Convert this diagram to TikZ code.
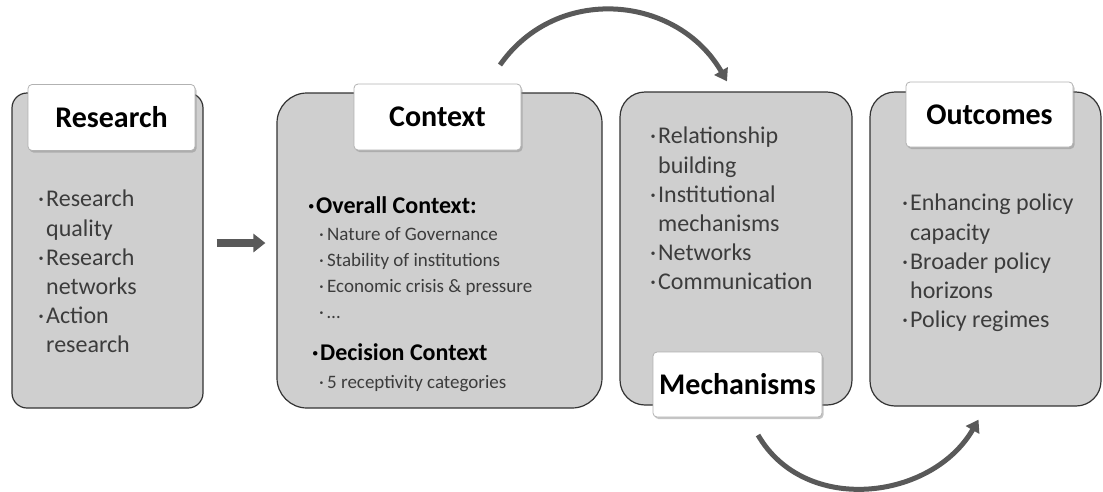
\documentclass[tikz,border=0pt]{standalone}
\usepackage{fontspec}
\setmainfont{Carlito}
\usepackage{tikz}
\usetikzlibrary{arrows.meta,shadows,positioning}

\definecolor{panelgrey}{RGB}{207,207,207}
\definecolor{arrowgrey}{RGB}{89,89,89}
\definecolor{textgrey}{RGB}{60,60,60}

\newcommand{\bl}{\makebox[8pt][l]{·}}
\newcommand{\ind}{\hspace*{8pt}}

\tikzset{
    panel/.style={draw=black!80, line width=1.2pt, fill=panelgrey},
    titlebox/.style={draw=black!30, line width=0.8pt, fill=white, rounded corners=4pt,
        minimum width=167pt, minimum height=66pt, inner sep=0pt,
        drop shadow={shadow xshift=1.5pt, shadow yshift=-2pt, fill=black!45},
        font=\fontsize{30}{32}\bfseries},
    itemtext/.style={anchor=north west, inner sep=0pt, align=left, text=textgrey,
        font=\fontsize{24}{29.2}\selectfont},
    blockarrow/.style={draw=arrowgrey, line width=8pt, -{Triangle[length=12pt,width=18pt]}},
    curvearrow/.style={draw=arrowgrey, line width=5pt, -{Triangle[length=12pt,width=15pt]}}
}

\begin{document}
\begin{tikzpicture}[x=1pt, y=-1pt]
\useasboundingbox (0,0) rectangle (1103,491);

% panels
\node[panel, rounded corners=15pt, minimum width=191pt, minimum height=315pt] (res) at (107.5,250.5) {};
\node[panel, rounded corners=30pt, minimum width=325pt, minimum height=315pt] (ctx) at (439.5,250.5) {};
\node[panel, rounded corners=25pt, minimum width=232pt, minimum height=313pt] (mech) at (736,248.5) {};
\node[panel, rounded corners=25pt, minimum width=231pt, minimum height=314pt] (out) at (985.5,249) {};

% titles
\node[titlebox] (restitle) at (111.5,117.5) {Research};
\node[titlebox] (ctxtitle) at (437.5,117) {Context};
\node[titlebox, minimum width=169pt, minimum height=65pt] (mechtitle) at (737.5,384.5) {Mechanisms};
\node[titlebox, minimum height=65pt] (outtitle) at (989.5,114.5) {Outcomes};

% items
\node[itemtext] (resitems) at (38,190) {\bl Research\\ \ind quality\\ \bl Research\\ \ind networks\\ \bl Action\\ \ind research};

\node[itemtext, text=black, font=\fontsize{24}{29}\bfseries] (overall) at (308,196) {\bl Overall Context:};
\node[itemtext, font=\fontsize{19}{26}\selectfont] (overallitems) at (319,227) {\bl Nature of Governance\\ \bl Stability of institutions\\ \bl Economic crisis \& pressure\\ \bl \ldots};
\node[itemtext, text=black, font=\fontsize{24}{29}\bfseries] (decision) at (312,343) {\bl Decision Context};
\node[itemtext, font=\fontsize{19}{26}\selectfont] (decisionitems) at (319,375) {\bl 5 receptivity categories};

\node[itemtext] (mechitems) at (650,127) {\bl Relationship\\ \ind building\\ \bl Institutional\\ \ind mechanisms\\ \bl Networks\\ \bl Communication};

\node[itemtext] (outitems) at (902,194) {\bl Enhancing policy\\ \ind capacity\\ \bl Broader policy\\ \ind horizons\\ \bl Policy regimes};

% arrows
\draw[blockarrow, shorten <=13pt, shorten >=11pt] (res.east |- 0,243) -- (ctx.west |- 0,243);

\coordinate (topstart) at (500,65);
\coordinate (botstart) at (758,435);
\draw[curvearrow] (topstart) to[out=55, in=120, looseness=1.12] ([xshift=-9pt, yshift=10pt]mech.north);
\draw[curvearrow] (botstart) to[out=-60, in=-120, looseness=1.08] ([xshift=-7pt, yshift=-13pt]out.south);
\end{tikzpicture}
\end{document}
